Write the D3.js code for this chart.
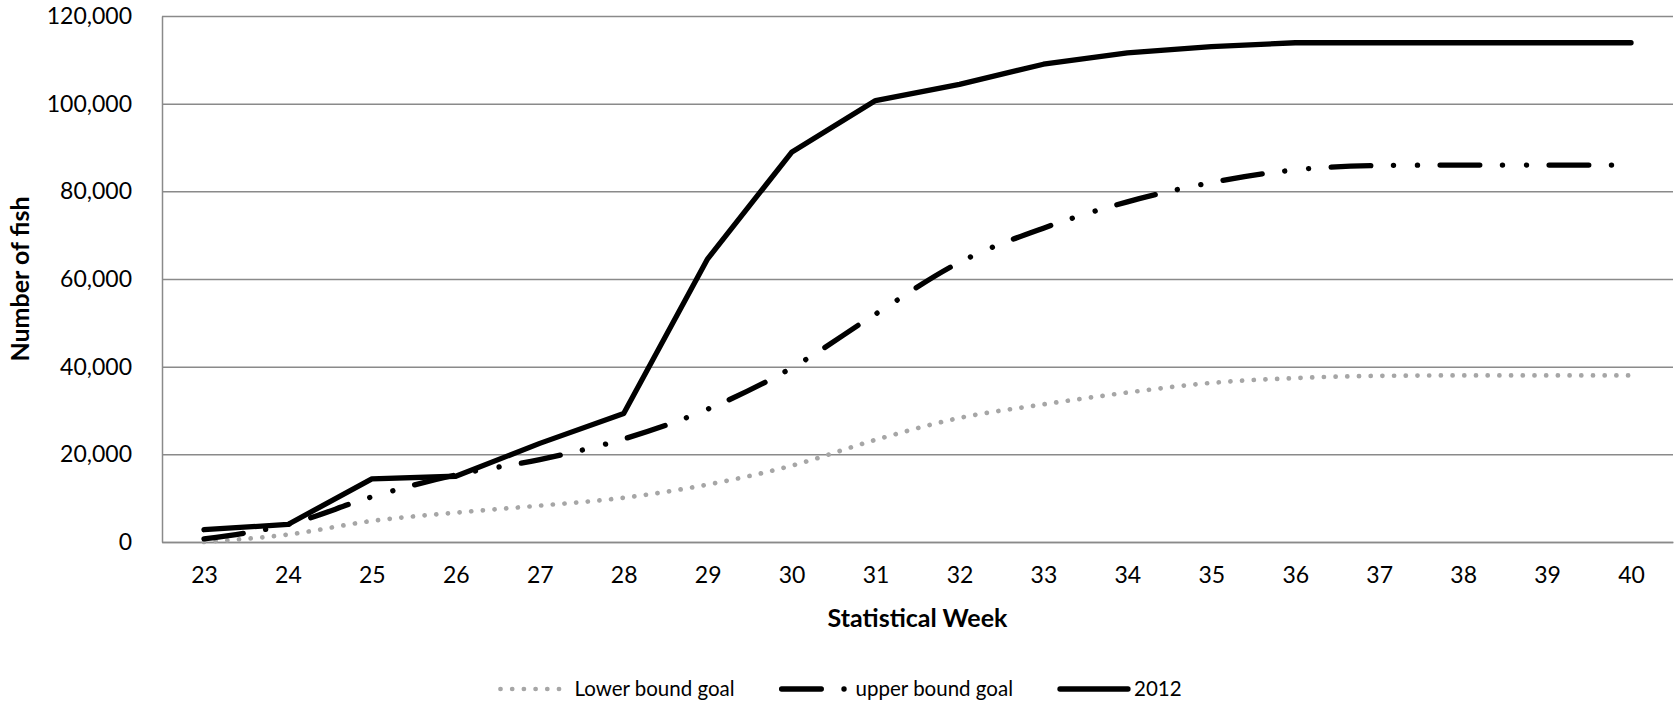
<!DOCTYPE html>
<html>
<head>
<meta charset="utf-8">
<script src="https://d3js.org/d3.v7.min.js"></script>
<style>
  body { margin: 0; background: #fff; }
  svg { display: block; font-family: Lato, "Open Sans", sans-serif; }
</style>
</head>
<body>
<div class="chart"></div>
<script>

// chart data
var weeks = [23, 24, 25, 26, 27, 28, 29, 30, 31, 32, 33, 34, 35, 36, 37, 38, 39, 40];
var lowerGoal = [0, 1700, 4800, 6700, 8300, 10100, 13100, 17400, 23300, 28300, 31400, 34100, 36300, 37400, 37900, 38000, 38000, 38000];
var upperGoal = [700, 4000, 10300, 15300, 18800, 23500, 30300, 39700, 52000, 63800, 71600, 77600, 82000, 84900, 85900, 86000, 86000, 86000];
var run2012 = [2800, 4000, 14400, 15000, 22500, 29300, 64600, 88900, 100700, 104400, 109000, 111600, 113000, 113900, 113900, 113900, 113900, 113900];
var yTicks = [0, 20000, 40000, 60000, 80000, 100000, 120000];
var seriesNames = ["Lower bound goal", "upper bound goal", "2012"];

var width = 1680, height = 701;
var margin = {top: 16, right: 7, bottom: 159, left: 162};
var innerW = width - margin.left - margin.right;
var innerH = height - margin.top - margin.bottom;

var svg = d3.select(".chart")
    .append("svg")
    .attr("width", width)
    .attr("height", height);

var g = svg.append("g")
    .attr("transform", "translate(" + margin.left + "," + margin.top + ")");

var x = d3.scalePoint()
    .domain(weeks)
    .range([0, innerW])
    .padding(0.5);

var y = d3.scaleLinear()
    .domain([0, 120000])
    .range([innerH, 0]);

var gridColor = "#8a8a8a";

// gridlines
g.append("g")
    .attr("class", "grid")
    .call(d3.axisLeft(y).tickValues(yTicks).tickSize(-innerW).tickFormat(""))
    .call(function(s) {
        s.select(".domain").remove();
        s.selectAll("line").attr("stroke", gridColor).attr("stroke-width", 1.5);
    });

// y axis
g.append("g")
    .call(d3.axisLeft(y).tickValues(yTicks).tickSize(0).tickPadding(30)
        .tickFormat(d3.format(",")))
    .call(function(s) {
        s.select(".domain").attr("stroke", gridColor).attr("stroke-width", 1.5);
        s.selectAll("text")
            .attr("font-size", 23)
            .attr("font-family", "Lato, sans-serif")
            .attr("fill", "#000");
    });

// x axis
g.append("g")
    .attr("transform", "translate(0," + innerH + ")")
    .call(d3.axisBottom(x).tickSize(0).tickPadding(25))
    .call(function(s) {
        s.select(".domain").attr("stroke", gridColor).attr("stroke-width", 1.5);
        s.selectAll("text")
            .attr("font-size", 23)
            .attr("font-family", "Lato, sans-serif")
            .attr("fill", "#000");
    });

// axis titles
svg.append("text")
    .attr("x", margin.left + innerW / 2)
    .attr("y", 627)
    .attr("text-anchor", "middle")
    .attr("font-size", 25)
    .attr("font-weight", "bold")
    .text("Statistical Week");

svg.append("text")
    .attr("transform", "translate(29," + (margin.top + innerH / 2) + ") rotate(-90)")
    .attr("text-anchor", "middle")
    .attr("font-size", 25)
    .attr("font-weight", "bold")
    .text("Number of fish");

// line styles
var styles = [
    {stroke: "#a6a6a6", width: 4.7, dash: "0.1 11.6", curve: d3.curveMonotoneX},
    {stroke: "#000", width: 5.3, dash: "39.7 22.65 0.1 23.9 0.1 22.55", curve: d3.curveMonotoneX},
    {stroke: "#000", width: 5.3, dash: null, curve: d3.curveLinear}
];
var series = [lowerGoal, upperGoal, run2012];

series.forEach(function(vals, i) {
    var line = d3.line()
        .x(function(d, j) { return x(weeks[j]); })
        .y(function(d) { return y(d); })
        .curve(styles[i].curve);

    g.append("path")
        .datum(vals)
        .attr("fill", "none")
        .attr("stroke", styles[i].stroke)
        .attr("stroke-width", styles[i].width)
        .attr("stroke-linecap", "round")
        .attr("stroke-linejoin", "round")
        .attr("stroke-dasharray", styles[i].dash)
        .attr("d", line);
});

// legend
var legend = svg.append("g").attr("class", "legend");
var symLen = 70, symGap = 6, itemGap = 45, legY = 689;
var items = legend.selectAll("g")
    .data(seriesNames)
    .enter()
    .append("g");

items.append("text")
    .attr("x", symLen + symGap)
    .attr("y", legY + 7)
    .attr("font-size", 20.5)
    .attr("fill", "#000")
    .text(function(d) { return d; });

items.append("line")
    .attr("x1", 2)
    .attr("x2", symLen)
    .attr("y1", legY)
    .attr("y2", legY)
    .attr("stroke", function(d, i) { return styles[i].stroke; })
    .attr("stroke-width", function(d, i) { return styles[i].width; })
    .attr("stroke-linecap", "round")
    .attr("stroke-dasharray", function(d, i) { return styles[i].dash; });

var widths = [];
items.each(function() {
    widths.push(symLen + symGap + d3.select(this).select("text").node().getComputedTextLength());
});
var total = d3.sum(widths) + itemGap * (widths.length - 1);
var cx = width / 2 - total / 2;
items.attr("transform", function(d, i) {
    var off = cx;
    for (var k = 0; k < i; k++) off += widths[k] + itemGap;
    return "translate(" + off + ",0)";
});

</script>
</body>
</html>
